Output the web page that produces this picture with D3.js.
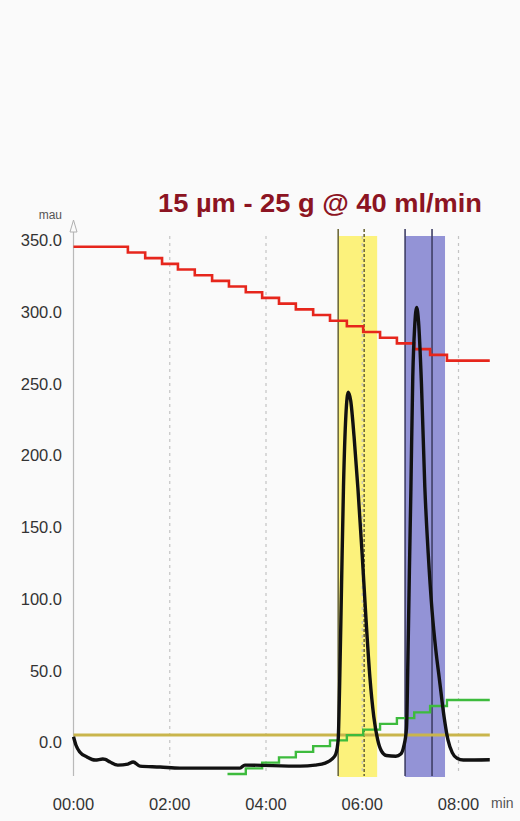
<!DOCTYPE html>
<html><head><meta charset="utf-8">
<script src="https://cdn.jsdelivr.net/npm/d3@7"></script>
<style>html,body{margin:0;padding:0;background:#fafafa;}svg{display:block;}</style>
</head><body>
<script>
// ---------- data ----------
const titleText = "15 µm - 25 g @ 40 ml/min";
const yUnit = "mau";
const xUnit = "min";
const xTickValues = [0, 2, 4, 6, 8];
const xTickLabels = ["00:00", "02:00", "04:00", "06:00", "08:00"];
const yTickValues = [0, 50, 100, 150, 200, 250, 300, 350];
const yTickLabels = ["0.0", "50.0", "100.0", "150.0", "200.0", "250.0", "300.0", "350.0"];

// UV signal (black)
const signalTime = [0, 0.05, 0.13, 0.28, 0.45, 0.61, 0.66, 0.76, 0.92, 1.13, 1.24, 1.38, 1.8, 2.21, 3.46, 3.56, 4.71, 5.02, 5.23, 5.37, 5.45,
  5.5, 5.53, 5.57, 5.61, 5.66, 5.71, 5.76, 5.83, 5.91, 6.0, 6.08, 6.16, 6.24, 6.32, 6.4, 6.5, 6.7, 6.8, 6.86,
  6.92, 6.95, 6.98, 7.01, 7.05, 7.09, 7.13, 7.17, 7.23, 7.3, 7.37, 7.45, 7.53, 7.6, 7.7, 7.78, 7.87, 7.97, 8.1, 8.65];
const signalMau = [4, -1.7, -6.6, -10, -12.2, -11.5, -11.8, -13.6, -15.7, -15, -13.6, -16.4, -17, -17.8, -17.8, -15.7, -16.4, -15.7, -14.3, -11.5, -8,
  2, 40, 110, 178, 228, 244, 238, 213, 177, 130, 85, 45, 18, 2, -6, -9, -9.5, -8, -3,
  10, 60, 120, 175, 255, 290, 303, 293, 250, 178, 132, 92, 64, 45, 18, 2, -7, -11, -12.2, -12];

// gradient trace (red)
const redTime = [0, 1.13, 1.49, 1.84, 2.17, 2.52, 2.88, 3.23, 3.58, 3.92, 4.27, 4.62, 4.98, 5.33, 5.68, 6.02, 6.37, 6.72, 7.08, 7.41, 7.76, 8.65];
const redLevel = [345.3, 341.3, 337.4, 333.4, 329.5, 325.5, 321.5, 317.6, 313.6, 309.7, 305.7, 301.7, 297.8, 293.8, 289.9, 285.9, 281.9, 278, 274, 270, 266, 266];

// second trace (green)
const greenTime = [3.2, 3.58, 3.92, 4.27, 4.62, 4.98, 5.33, 5.68, 6.02, 6.37, 6.72, 7.08, 7.41, 7.76, 8.65];
const greenLevel = [-21.9, -18, -14, -10.3, -6.5, -2.5, 1.5, 5.2, 9, 13, 17, 21, 25.5, 29.6, 29.6];

// threshold (olive)
const thresholdLevel = 5.2;
const thresholdRange = [0, 8.65];

// collected fractions
const fractionStart = [5.5, 6.89];
const fractionEnd = [6.31, 7.72];
const fractionMark = [6.04, 7.45];
const fractionFill = ["#fcf27c", "#9393d6"];
const fractionEdge = ["#6e6a3c", "#3f3f66"];

// ---------- layout ----------
const W = 520, H = 821;
const plotTop = 236, plotBottom = 776;
const svg = d3.select("body").append("svg").attr("width", W).attr("height", H);
svg.append("rect").attr("width", W).attr("height", H).attr("fill", "#fafafa");

const x = d3.scaleLinear().domain([0, 8]).range([73.5, 458.5]);
const y = d3.scaleLinear().domain([-23.3, 350]).range([776, 240]);

// fraction bands
const bands = svg.append("g");
fractionStart.forEach((s, i) => {
  bands.append("rect").attr("x", x(s)).attr("y", plotTop)
    .attr("width", x(fractionEnd[i]) - x(s)).attr("height", plotBottom - plotTop + 1)
    .attr("fill", fractionFill[i]);
});

// vertical dashed grid
svg.append("g").selectAll("line").data(xTickValues.filter(d => d > 0)).join("line")
  .attr("x1", d => x(d)).attr("x2", d => x(d)).attr("y1", plotTop).attr("y2", plotBottom - 2)
  .attr("stroke", "#c4c4c4").attr("stroke-width", 1.2).attr("stroke-dasharray", "3,4");

// fraction edge lines
fractionStart.forEach((s, i) => {
  bands.append("line").attr("x1", x(s)).attr("x2", x(s)).attr("y1", plotTop - 7).attr("y2", plotBottom)
    .attr("stroke", fractionEdge[i]).attr("stroke-width", 1.6);
  const m = fractionMark[i];
  bands.append("line").attr("x1", x(m)).attr("x2", x(m)).attr("y1", plotTop - 7).attr("y2", plotBottom)
    .attr("stroke", fractionEdge[i]).attr("stroke-width", 1.6)
    .attr("stroke-dasharray", i === 0 ? "3,2" : null);
});

// y axis line + arrow
svg.append("line").attr("x1", 73.5).attr("x2", 73.5).attr("y1", 232).attr("y2", plotBottom)
  .attr("stroke", "#b9b9b9").attr("stroke-width", 1.2);
svg.append("path").attr("d", "M73.5,220 L70,232 L77,232 Z").attr("fill", "#fafafa")
  .attr("stroke", "#b0b0b0").attr("stroke-width", 1);

// threshold line
svg.append("line").attr("x1", x(thresholdRange[0])).attr("x2", x(thresholdRange[1]))
  .attr("y1", y(thresholdLevel)).attr("y2", y(thresholdLevel))
  .attr("stroke", "#c9b54c").attr("stroke-width", 3);

// red gradient
const redData = redTime.map((t, i) => [t, redLevel[i]]);
svg.append("path").datum(redData)
  .attr("d", d3.line().x(d => x(d[0])).y(d => y(d[1])).curve(d3.curveStepAfter))
  .attr("fill", "none").attr("stroke", "#e6261c").attr("stroke-width", 2.6);

// green trace
const greenData = greenTime.map((t, i) => [t, greenLevel[i]]);
svg.append("path").datum(greenData)
  .attr("d", d3.line().x(d => x(d[0])).y(d => y(d[1])).curve(d3.curveStepAfter))
  .attr("fill", "none").attr("stroke", "#3dbb3d").attr("stroke-width", 2.4);

// signal
const sigData = signalTime.map((t, i) => [t, signalMau[i]]);
svg.append("path").datum(sigData)
  .attr("d", d3.line().x(d => x(d[0])).y(d => y(d[1])).curve(d3.curveMonotoneX))
  .attr("fill", "none").attr("stroke", "#111").attr("stroke-width", 3.4)
  .attr("stroke-linejoin", "round");

// y tick labels
const font = "'Liberation Sans', Arial, sans-serif";
svg.append("g").selectAll("text").data(yTickValues).join("text")
  .attr("x", 62).attr("y", d => y(d)).attr("dy", "0.36em")
  .attr("text-anchor", "end").attr("font-family", font).attr("font-size", 16.5)
  .attr("fill", "#333").text((d, i) => yTickLabels[i]);

svg.append("text").attr("x", 62).attr("y", 219).attr("text-anchor", "end")
  .attr("font-family", font).attr("font-size", 12).attr("fill", "#555").text(yUnit);

// x tick labels
svg.append("g").selectAll("text").data(xTickValues).join("text")
  .attr("x", d => x(d)).attr("y", 810).attr("text-anchor", "middle")
  .attr("font-family", font).attr("font-size", 16.5).attr("fill", "#333")
  .text((d, i) => xTickLabels[i]);
svg.append("text").attr("x", 491).attr("y", 808).attr("font-family", font)
  .attr("font-size", 14).attr("fill", "#555").text(xUnit);

// title
svg.append("text").attr("x", 158).attr("y", 212)
  .attr("font-family", font).attr("font-weight", "bold").attr("font-size", 26)
  .attr("fill", "#8c1422").attr("textLength", 324).attr("lengthAdjust", "spacingAndGlyphs")
  .text(titleText);
</script>
</body></html>
